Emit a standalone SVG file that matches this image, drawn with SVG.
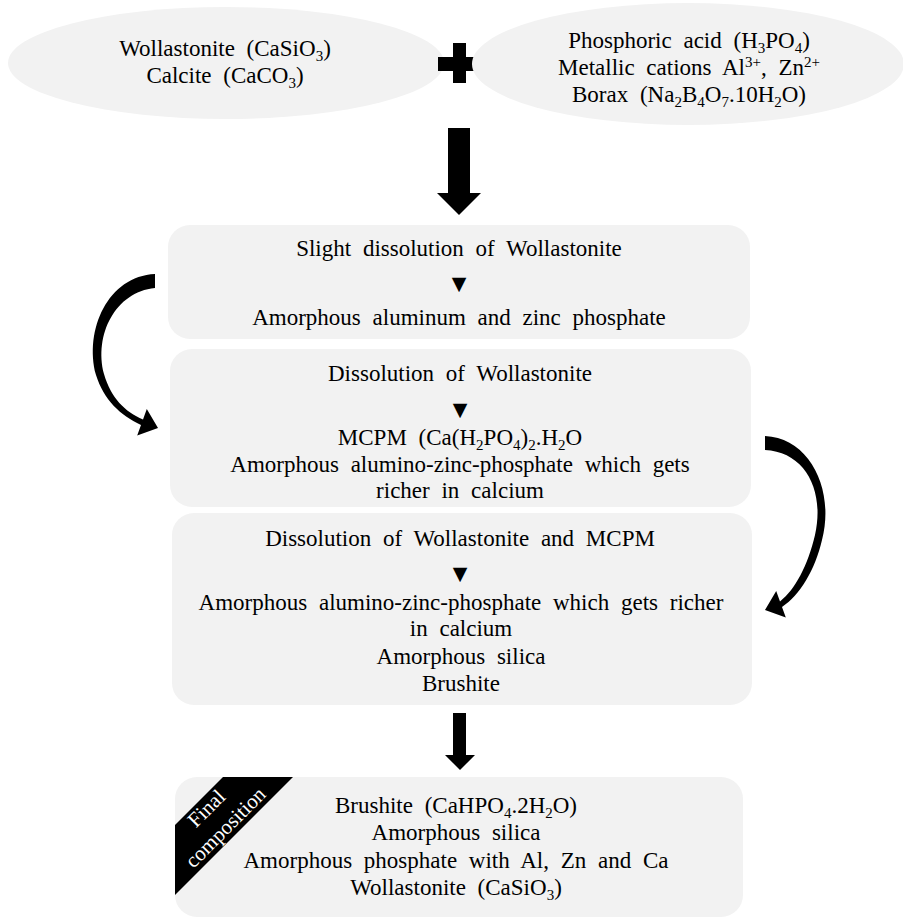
<svg xmlns="http://www.w3.org/2000/svg" width="903" height="918" viewBox="0 0 903 918">
<style>
.shape{fill:#f2f2f2}
.t{font-family:"Liberation Serif","Times New Roman",serif;font-size:23px;fill:#000;text-anchor:middle;word-spacing:6px}
.tri{font-family:"DejaVu Sans",sans-serif;font-size:19px;fill:#000;text-anchor:middle}
.ban{font-family:"Liberation Serif","Times New Roman",serif;font-size:21px;fill:#fff;text-anchor:middle}
.arr{fill:#000}
</style>
<rect width="903" height="918" fill="#fff"/>
<g id="reactants-left">
<ellipse class="shape" cx="226" cy="63" rx="218" ry="56"/>
<text class="t" x="225" y="56">Wollastonite (CaSiO<tspan font-size="15" dy="5">3</tspan><tspan dy="-5">)</tspan></text>
<text class="t" x="225" y="83">Calcite (CaCO<tspan font-size="15" dy="5">3</tspan><tspan dy="-5">)</tspan></text>
</g>
<g id="plus">
<rect class="arr" x="453" y="43" width="13" height="40"/>
<rect class="arr" x="438" y="57" width="44" height="14"/>
</g>
<g id="reactants-right">
<ellipse class="shape" cx="688" cy="64" rx="216" ry="61"/>
<text class="t" x="689" y="48">Phosphoric acid (H<tspan font-size="15" dy="5">3</tspan><tspan dy="-5">PO</tspan><tspan font-size="15" dy="5">4</tspan><tspan dy="-5">)</tspan></text>
<text class="t" x="689" y="75">Metallic cations Al<tspan font-size="15" dy="-8">3+</tspan><tspan dy="8">, Zn</tspan><tspan font-size="15" dy="-8">2+</tspan></text>
<text class="t" x="689" y="102">Borax (Na<tspan font-size="15" dy="5">2</tspan><tspan dy="-5">B</tspan><tspan font-size="15" dy="5">4</tspan><tspan dy="-5">O</tspan><tspan font-size="15" dy="5">7</tspan><tspan dy="-5">.10H</tspan><tspan font-size="15" dy="5">2</tspan><tspan dy="-5">O)</tspan></text>
</g>
<g id="step1">
<rect class="shape" x="168" y="225" width="582" height="114" rx="22"/>
<text class="t" x="459" y="256">Slight dissolution of Wollastonite</text>
<text class="tri" x="459" y="290">▼</text>
<text class="t" x="459" y="325">Amorphous aluminum and zinc phosphate</text>
</g>
<g id="step2">
<rect class="shape" x="170" y="349" width="581" height="158" rx="22"/>
<text class="t" x="460" y="381">Dissolution of Wollastonite</text>
<text class="tri" x="460" y="416">▼</text>
<text class="t" x="460" y="445">MCPM (Ca(H<tspan font-size="15" dy="5">2</tspan><tspan dy="-5">PO</tspan><tspan font-size="15" dy="5">4</tspan><tspan dy="-5">)</tspan><tspan font-size="15" dy="5">2</tspan><tspan dy="-5">.H</tspan><tspan font-size="15" dy="5">2</tspan><tspan dy="-5">O</tspan></text>
<text class="t" x="460" y="472">Amorphous alumino-zinc-phosphate which gets</text>
<text class="t" x="460" y="498">richer in calcium</text>
</g>
<g id="step3">
<rect class="shape" x="172" y="513" width="580" height="192" rx="22"/>
<text class="t" x="460" y="546">Dissolution of Wollastonite and MCPM</text>
<text class="tri" x="460" y="580">▼</text>
<text class="t" x="461" y="610">Amorphous alumino-zinc-phosphate which gets richer</text>
<text class="t" x="461" y="636">in calcium</text>
<text class="t" x="461" y="664">Amorphous silica</text>
<text class="t" x="461" y="691">Brushite</text>
</g>
<g id="final">
<rect class="shape" x="175" y="777" width="568" height="140" rx="22"/>
<polygon class="arr" points="223,777 293,777 175,895 175,825"/>
<text class="ban" transform="translate(211.3,813.3) rotate(-45)">Final</text>
<text class="ban" transform="translate(230.3,832.3) rotate(-45)">composition</text>
<text class="t" x="456" y="813">Brushite (CaHPO<tspan font-size="15" dy="5">4</tspan><tspan dy="-5">.2H</tspan><tspan font-size="15" dy="5">2</tspan><tspan dy="-5">O)</tspan></text>
<text class="t" x="456" y="840">Amorphous silica</text>
<text class="t" x="456" y="868">Amorphous phosphate with Al, Zn and Ca</text>
<text class="t" x="456" y="895">Wollastonite (CaSiO<tspan font-size="15" dy="5">3</tspan><tspan dy="-5">)</tspan></text>
</g>
<g id="connectors">
<polygon class="arr" points="448,128 470,128 470,193 481,193 459,215 437,193 448,193"/>
<polygon class="arr" points="453,713 466,713 466,755 475,755 460,770 445,755 453,755"/>
<path class="arr" d="M155,274 C108,276 84,330 96,375 C104,400 120,415 141,425 L137.2,435.4 L158,428 L146.8,409 L143,419.4 C125,412 111,398 104,374 C94,335 115,292 155,288 Z"/>
<path class="arr" d="M765,436 C810,438 835,490 822,540 C815,570 800,595 782,607 L785.8,617.4 L765,610 L776.2,591 L780,601.4 C795,590 808,565 815,535 C825,490 805,452 765,450 Z"/>
</g>
</svg>
